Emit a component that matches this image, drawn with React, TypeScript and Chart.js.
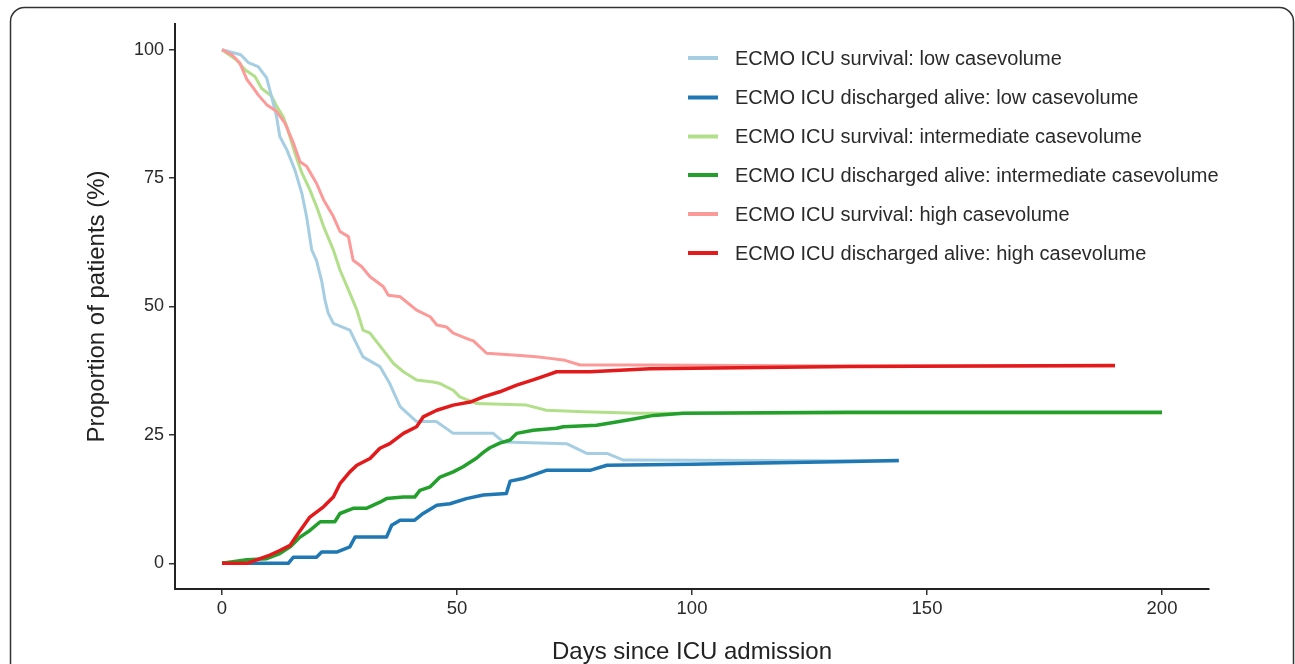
import React, { useEffect, useRef } from "react";
import { Chart, registerables } from "chart.js";

Chart.register(...registerables);

const xTicks = [0, 50, 100, 150, 200];
const yTicks = [0, 25, 50, 75, 100];

const seriesLabels = [
  "ECMO ICU survival: low casevolume",
  "ECMO ICU discharged alive: low casevolume",
  "ECMO ICU survival: intermediate casevolume",
  "ECMO ICU discharged alive: intermediate casevolume",
  "ECMO ICU survival: high casevolume",
  "ECMO ICU discharged alive: high casevolume",
];
const seriesColors = ["#a6cee3", "#1f78b4", "#b2df8a", "#23a02c", "#fb9a99", "#e31a1c"];

const lowSurvDays = [0, 4, 5.6, 7.7, 9.5, 10.9, 11.6, 12.3, 13.8, 15.5, 17, 18, 19.1, 20.1, 21.2, 21.9, 22.6, 23.7, 27.2, 30, 33.6, 35.7, 37.9, 41.4, 45.6, 49.2, 57.7, 59.9, 73.3, 77.6, 81.9, 85.4, 144];
const lowSurvVals = [100, 99, 97.5, 96.7, 94.5, 89.6, 87, 83.1, 80.5, 76.6, 72, 67.5, 61, 59, 55, 51.3, 48.7, 46.7, 45.4, 40.2, 38.3, 35, 30.5, 27.6, 27.6, 25.3, 25.3, 23.6, 23.3, 21.4, 21.4, 20.1, 19.9];

const lowDischDays = [0, 14.1, 15.2, 20.1, 21.2, 24.4, 27.2, 28.3, 35, 36.1, 37.9, 41, 42.8, 45.7, 48.5, 52, 55.6, 60.5, 61.3, 64, 69, 78.3, 81.9, 100, 133.6, 144];
const lowDischVals = [0, 0, 1.2, 1.2, 2.2, 2.2, 3.2, 5.1, 5.1, 7.4, 8.4, 8.4, 9.7, 11.3, 11.6, 12.6, 13.3, 13.6, 16, 16.5, 18.1, 18.1, 19.1, 19.3, 19.8, 20];

const intSurvDays = [0, 3.1, 4.9, 7, 8.4, 10.6, 11.6, 13, 13.8, 15.5, 17, 18.7, 20.1, 21.6, 23.7, 25.1, 27.2, 28.7, 30, 31.5, 34.3, 36.5, 38.6, 41.4, 44.9, 46.4, 49.2, 50.6, 52.8, 54.2, 64.8, 69, 76.9, 88.2, 200];
const intSurvVals = [100, 98, 96.1, 94.8, 92.5, 90.9, 89, 87, 85, 79.9, 76, 72.7, 69.5, 65.6, 61, 57.1, 52.6, 49.3, 45.4, 44.8, 41.5, 38.9, 37.3, 35.7, 35.3, 35, 33.7, 32.4, 31.6, 31.1, 30.8, 29.8, 29.5, 29.2, 29.2];

const intDischDays = [0, 5.3, 9.5, 12.3, 14.5, 16.6, 18.7, 20.9, 24, 25.1, 27.9, 30.7, 33.6, 35, 38.6, 41, 42.1, 44.3, 46.4, 49.2, 51.3, 54.2, 55.6, 57, 59.1, 61.3, 62.7, 66.2, 71.2, 72.6, 79.7, 83.9, 88.2, 91.8, 98.2, 133.6, 200];
const intDischVals = [0, 0.7, 0.9, 1.9, 3.2, 5.1, 6.4, 8.1, 8.1, 9.7, 10.7, 10.7, 11.9, 12.6, 12.9, 12.9, 14.2, 14.9, 16.8, 17.8, 18.8, 20.5, 21.6, 22.5, 23.4, 24, 25.3, 25.9, 26.3, 26.6, 26.9, 27.5, 28.2, 28.8, 29.2, 29.4, 29.4];

const highSurvDays = [0, 2.1, 3.8, 5.3, 6.7, 7.7, 9.5, 11.6, 13.4, 15.2, 16.6, 18, 20.1, 21.6, 23.7, 25.1, 26.9, 27.9, 29.7, 31.5, 34.3, 35.4, 37.9, 41.4, 44.3, 45.7, 47.8, 49.2, 52.8, 53.5, 56.3, 62.7, 66.9, 69.8, 72.6, 76.2, 91, 133.6, 190];
const highSurvVals = [100, 99, 97.4, 94.2, 92.5, 91.2, 89.3, 88, 85.7, 81.8, 78.2, 77.3, 74, 70.8, 67.5, 64.6, 63.6, 59, 57.8, 55.8, 53.9, 52.2, 51.9, 49.3, 48, 46.4, 46, 44.8, 43.5, 43.3, 40.9, 40.5, 40.2, 39.9, 39.6, 38.6, 38.6, 38.4, 38.4];

const highDischDays = [0, 5.3, 8.1, 10.2, 12.3, 14.5, 16.2, 18.7, 21.6, 23.7, 25.1, 27.2, 28.7, 31.5, 33.6, 35.7, 38.6, 41.4, 42.8, 45.7, 49.2, 52.8, 55.6, 59.1, 62.7, 66.2, 69, 71.2, 78.3, 91, 133.6, 190];
const highDischVals = [0, 0, 0.9, 1.6, 2.5, 3.5, 5.8, 9, 11, 12.9, 15.5, 17.8, 19.1, 20.4, 22.4, 23.3, 25.3, 26.6, 28.5, 29.8, 30.8, 31.4, 32.4, 33.4, 34.7, 35.7, 36.6, 37.3, 37.3, 37.9, 38.3, 38.5];

const xTitle = "Days since ICU admission";
const yTitle = "Proportion of patients (%)";

const FONT = "'Liberation Sans', Arial, Helvetica, sans-serif";

function zip(days: number[], vals: number[]) {
  return days.map((d, i) => ({ x: d, y: vals[i] }));
}

export default function App() {
  const ref = useRef<HTMLCanvasElement | null>(null);

  useEffect(() => {
    if (!ref.current) return;
    const allDays = [lowSurvDays, lowDischDays, intSurvDays, intDischDays, highSurvDays, highDischDays];
    const allVals = [lowSurvVals, lowDischVals, intSurvVals, intDischVals, highSurvVals, highDischVals];
    const drawOrder = [4, 2, 5, 1, 3, 0];
    const widths = [3, 3.5, 3, 3.5, 3, 3.5];

    const decor = {
      id: "decor",
      beforeDraw(chart: any) {
        const ctx = chart.ctx;
        ctx.save();
        ctx.fillStyle = "#ffffff";
        ctx.fillRect(0, 0, chart.width, chart.height);
        ctx.strokeStyle = "#333333";
        ctx.lineWidth = 1.5;
        ctx.beginPath();
        (ctx as any).roundRect(10.5, 7.5, 1283, 720, 14);
        ctx.stroke();
        ctx.restore();
      },
      afterDraw(chart: any) {
        const ctx = chart.ctx;
        const a = chart.chartArea;
        ctx.save();
        ctx.fillStyle = "#222222";
        ctx.font = `24px ${FONT}`;
        ctx.textAlign = "center";
        ctx.textBaseline = "middle";
        ctx.fillText(xTitle, (a.left + a.right) / 2, 652);
        ctx.translate(97, (a.top + a.bottom) / 2);
        ctx.rotate(-Math.PI / 2);
        ctx.fillText(yTitle, 0, 0);
        ctx.restore();

        ctx.save();
        ctx.font = `20px ${FONT}`;
        ctx.textAlign = "left";
        ctx.textBaseline = "middle";
        const ys = [58, 97.5, 136.5, 175, 214, 253];
        seriesLabels.forEach((lab, i) => {
          ctx.strokeStyle = seriesColors[i];
          ctx.lineWidth = 4;
          ctx.beginPath();
          ctx.moveTo(688, ys[i]);
          ctx.lineTo(718, ys[i]);
          ctx.stroke();
          ctx.fillStyle = "#2a2a2a";
          ctx.fillText(lab, 735, ys[i] + 1);
        });
        ctx.restore();
      },
    };

    const chart = new Chart(ref.current, {
      type: "line",
      data: {
        datasets: seriesLabels.map((lab, i) => ({
          label: lab,
          data: zip(allDays[i], allVals[i]),
          borderColor: seriesColors[i],
          backgroundColor: seriesColors[i],
          borderWidth: widths[i],
          pointRadius: 0,
          tension: 0,
          fill: false,
          order: drawOrder[i],
          borderJoinStyle: "round" as const,
        })),
      },
      options: {
        animation: false,
        responsive: false,
        devicePixelRatio: 1,
        layout: { padding: { top: 24, right: 86, left: 0, bottom: 0 } },
        plugins: { legend: { display: false }, tooltip: { enabled: false } },
        scales: {
          x: {
            type: "linear",
            min: -10,
            max: 210,
            afterBuildTicks: (s: any) => {
              s.ticks = xTicks.map((v) => ({ value: v }));
            },
            afterFit: (s: any) => {
              s.height = 75;
            },
            grid: { drawOnChartArea: false, drawTicks: true, tickLength: 6, color: "#333333", lineWidth: 1.5 },
            border: { display: true, color: "#222222", width: 2 },
            ticks: { font: { size: 18.5, family: FONT }, color: "#2a2a2a", padding: 3, maxRotation: 0 },
          },
          y: {
            type: "linear",
            min: -5,
            max: 105,
            afterBuildTicks: (s: any) => {
              s.ticks = yTicks.map((v) => ({ value: v }));
            },
            afterFit: (s: any) => {
              s.width = 175;
            },
            grid: { drawOnChartArea: false, drawTicks: true, tickLength: 6, color: "#333333", lineWidth: 1.5 },
            border: { display: true, color: "#222222", width: 2 },
            ticks: { font: { size: 18, family: FONT }, color: "#2a2a2a", padding: 5 },
          },
        },
      },
      plugins: [decor],
    });
    return () => chart.destroy();
  }, []);

  return (
    <div style={{ position: "absolute", left: 0, top: 0, width: 1295, height: 664, background: "#fff" }}>
      <canvas ref={ref} width={1295} height={664} style={{ display: "block", width: 1295, height: 664 }} />
    </div>
  );
}
